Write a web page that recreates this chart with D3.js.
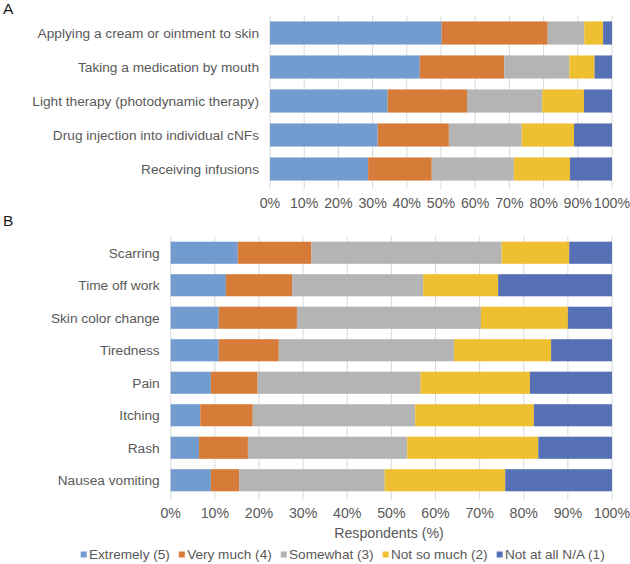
<!DOCTYPE html>
<html><head><meta charset="utf-8">
<script src="https://cdn.jsdelivr.net/npm/d3@7"></script>
<style>body{margin:0;background:#fff}svg{display:block;font-family:"Liberation Sans",Arial,sans-serif}</style>
</head><body><svg id="c" width="630" height="564"></svg>
<script>
const seriesNames = ["Extremely (5)", "Very much (4)", "Somewhat (3)", "Not so much (2)", "Not at all N/A (1)"];
const colors = ["#729cd0", "#d67c38", "#b4b4b4", "#eebf30", "#5570b5"];
const ticks = [0,10,20,30,40,50,60,70,80,90,100];

const catsA = ["Applying a cream or ointment to skin", "Taking a medication by mouth", "Light therapy (photodynamic therapy)", "Drug injection into individual cNFs", "Receiving infusions"];
const extremelyA = [50.2, 43.8, 34.4, 31.5, 28.7];
const veryMuchA  = [31.0, 24.7, 23.2, 20.8, 18.6];
const somewhatA  = [10.7, 19.0, 22.0, 21.3, 24.0];
const notSoMuchA = [5.5, 7.4, 12.2, 15.3, 16.4];
const notAtAllA  = [2.6, 5.1, 8.2, 11.1, 12.3];

const catsB = ["Scarring", "Time off work", "Skin color change", "Tiredness", "Pain", "Itching", "Rash", "Nausea vomiting"];
const extremelyB = [15.2, 12.5, 10.9, 10.9, 9.1, 6.7, 6.4, 9.1];
const veryMuchB  = [16.7, 15.0, 17.7, 13.6, 10.6, 11.9, 11.1, 6.4];
const somewhatB  = [43.1, 29.7, 41.7, 39.7, 36.9, 36.8, 36.1, 33.0];
const notSoMuchB = [15.3, 17.0, 19.7, 22.0, 24.8, 26.9, 29.7, 27.3];
const notAtAllB  = [9.7, 25.8, 10.0, 13.8, 18.6, 17.7, 16.7, 24.2];

const svg = d3.select("#c");
const textColor = "#595959";

function panel(cats, series, x0, x1, y0, y1, tickY, letter, letterY) {
  const x = d3.scaleLinear().domain([0,100]).range([x0, x1]);
  const y = d3.scaleBand().domain(cats).range([y0, y1]).paddingInner(0.32).paddingOuter(0.16);
  const g = svg.append("g");
  g.selectAll("line.grid").data(ticks).join("line")
    .attr("x1", d => x(d)).attr("x2", d => x(d))
    .attr("y1", y0).attr("y2", y1 + 3)
    .attr("stroke", "#d9d9d9").attr("stroke-width", 1);
  const rows = cats.map((c,i) => {
    const vals = series.map(s => s[i]);
    let acc = 0;
    return vals.map((v,k) => { const r = {cat:c, k, a:acc, b:acc+v}; acc += v; return r; });
  }).flat();
  g.selectAll("rect").data(rows).join("rect")
    .attr("x", d => x(d.a)).attr("width", d => x(d.b) - x(d.a))
    .attr("y", d => y(d.cat)).attr("height", y.bandwidth())
    .attr("fill", d => colors[d.k]);
  g.selectAll("text.cat").data(cats).join("text")
    .attr("x", x0 - 11).attr("y", d => y(d) + y.bandwidth()/2)
    .attr("dy", "0.35em").attr("text-anchor", "end")
    .attr("font-size", 13.7).attr("fill", textColor).text(d => d);
  g.selectAll("text.tick").data(ticks).join("text")
    .attr("x", d => x(d)).attr("y", tickY).attr("dy", "0.35em")
    .attr("text-anchor", "middle").attr("font-size", 14.2).attr("fill", textColor)
    .text(d => d + "%");
  svg.append("text").attr("x", 3).attr("y", letterY).attr("font-size", 15.5).attr("fill", "#1a1a1a").text(letter);
}

panel(catsA, [extremelyA, veryMuchA, somewhatA, notSoMuchA, notAtAllA], 270, 612, 16, 186, 203.5, "A", 14);
panel(catsB, [extremelyB, veryMuchB, somewhatB, notSoMuchB, notAtAllB], 170.7, 612, 236.5, 496.5, 513, "B", 226);

svg.append("text").attr("x", 389).attr("y", 533).attr("dy", "0.35em")
  .attr("text-anchor", "middle").attr("font-size", 14.2).attr("fill", textColor).text("Respondents (%)");

const leg = svg.append("g");
let lx = 80.7;
seriesNames.forEach((n,i) => {
  leg.append("rect").attr("x", lx).attr("y", 551.5).attr("width", 6).attr("height", 6).attr("fill", colors[i]);
  const t = leg.append("text").attr("x", lx + 8.3).attr("y", 554.5).attr("dy", "0.35em")
    .attr("font-size", 13.6).attr("fill", textColor).text(n);
  lx += 8.3 + t.node().getComputedTextLength() + 9;
});
</script></body></html>
